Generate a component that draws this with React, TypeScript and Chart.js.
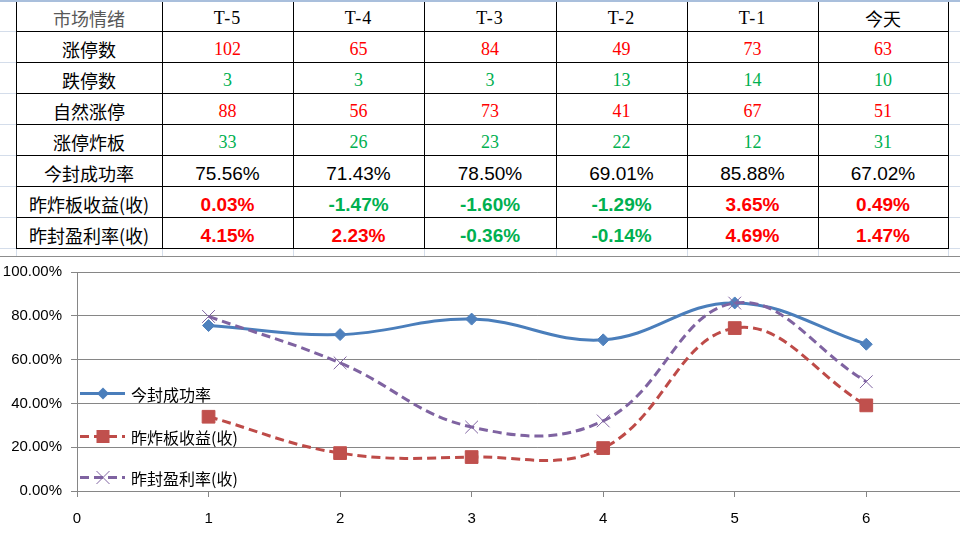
import React, { useEffect, useRef } from 'react';
import { Chart, registerables } from 'chart.js';

Chart.register(...registerables);

// ---------- table data ----------
const headerLabel = '市场情绪';
const categories = ['T-5', 'T-4', 'T-3', 'T-2', 'T-1', '今天'];
const rowLabels = ['涨停数', '跌停数', '自然涨停', '涨停炸板', '今封成功率', '昨炸板收益(收)', '昨封盈利率(收)'];
const limitUp = [102, 65, 84, 49, 73, 63];
const limitDown = [3, 3, 3, 13, 14, 10];
const naturalLimitUp = [88, 56, 73, 41, 67, 51];
const brokenBoards = [33, 26, 23, 22, 12, 31];
const sealSuccessRate = [75.56, 71.43, 78.5, 69.01, 85.88, 67.02];
const brokenReturn = [0.03, -1.47, -1.6, -1.29, 3.65, 0.49];
const sealProfit = [4.15, 2.23, -0.36, -0.14, 4.69, 1.47];

// ---------- chart data ----------
const xPositions = [1, 2, 3, 4, 5, 6];
const seriesNames = ['今封成功率', '昨炸板收益(收)', '昨封盈利率(收)'];
const successPlot = [75.56, 71.43, 78.5, 69.01, 85.88, 67.02];
const brokenReturnPlot = [33.9, 17.3, 15.5, 19.6, 74.4, 39.1];
const sealProfitPlot = [79.7, 58.5, 29.2, 32.0, 85.8, 49.9];
const yTicks = [0, 20, 40, 60, 80, 100];
const xTicks = [0, 1, 2, 3, 4, 5, 6, 7];

const colX = [16, 162, 293, 424, 556, 687, 818, 948];
const rowY = [0, 31, 62, 93, 124, 155, 186, 217, 248];

const RED = '#FF0000';
const GREEN = '#00B050';
const CJK = '"Noto Sans CJK SC", "Noto Sans", sans-serif';

const BLUE = '#4A7EBB';
const DRED = '#BE4B48';
const PURPLE = '#7F63A1';

const legendItems = [
  { name: seriesNames[0], color: BLUE, dash: [] as number[], marker: 'diamond', y: 139.5 },
  { name: seriesNames[1], color: DRED, dash: [9, 5], marker: 'square', y: 182.5 },
  { name: seriesNames[2], color: PURPLE, dash: [9, 5], marker: 'x', y: 223.5 },
];

const legendPlugin = {
  id: 'customLegend',
  afterDatasetsDraw(chart: any) {
    const ctx = chart.ctx as CanvasRenderingContext2D;
    ctx.save();
    for (const it of legendItems) {
      ctx.beginPath();
      ctx.setLineDash(it.dash);
      ctx.lineWidth = 3;
      ctx.strokeStyle = it.color;
      ctx.moveTo(80, it.y);
      ctx.lineTo(125, it.y);
      ctx.stroke();
      ctx.setLineDash([]);
      const cx = 103;
      if (it.marker === 'diamond') {
        ctx.beginPath();
        ctx.fillStyle = it.color;
        ctx.moveTo(cx, it.y - 6);
        ctx.lineTo(cx + 6, it.y);
        ctx.lineTo(cx, it.y + 6);
        ctx.lineTo(cx - 6, it.y);
        ctx.closePath();
        ctx.fill();
      } else if (it.marker === 'square') {
        ctx.fillStyle = '#C0504D';
        ctx.fillRect(cx - 6.5, it.y - 6.5, 13, 13);
      } else {
        ctx.beginPath();
        ctx.lineWidth = 1;
        ctx.strokeStyle = '#8064A2';
        ctx.moveTo(cx - 6.5, it.y - 6.5);
        ctx.lineTo(cx + 6.5, it.y + 6.5);
        ctx.moveTo(cx + 6.5, it.y - 6.5);
        ctx.lineTo(cx - 6.5, it.y + 6.5);
        ctx.stroke();
      }
      ctx.fillStyle = '#000';
      ctx.font = '16px ' + CJK;
      ctx.textBaseline = 'middle';
      ctx.textAlign = 'left';
      ctx.fillText(it.name, 131, it.y + 1);
    }
    ctx.restore();
  },
};

function ChartBox() {
  const ref = useRef<HTMLCanvasElement | null>(null);
  useEffect(() => {
    if (!ref.current) return;
    const mk = (ys: number[]) => xPositions.map((x, i) => ({ x, y: ys[i] }));
    const tickFont = { family: '"Liberation Sans", Arial, sans-serif', size: 15 };
    const chart = new Chart(ref.current, {
      type: 'line',
      data: {
        datasets: [
          {
            label: seriesNames[0],
            data: mk(successPlot),
            borderColor: BLUE,
            backgroundColor: BLUE,
            pointBackgroundColor: '#4F81BD',
            pointBorderColor: '#4F81BD',
            borderWidth: 3,
            tension: 0.4,
            pointStyle: 'rectRot',
            pointRadius: 6,
            pointBorderWidth: 1,
            order: 2,
          },
          {
            label: seriesNames[1],
            data: mk(brokenReturnPlot),
            borderColor: DRED,
            backgroundColor: '#C0504D',
            pointBackgroundColor: '#C0504D',
            pointBorderColor: '#C0504D',
            borderWidth: 3,
            borderDash: [9, 5],
            tension: 0.4,
            pointStyle: 'rect',
            pointRadius: 9,
            pointBorderWidth: 1,
            order: 1,
          },
          {
            label: seriesNames[2],
            data: mk(sealProfitPlot),
            borderColor: PURPLE,
            backgroundColor: PURPLE,
            pointBorderColor: '#8064A2',
            pointBackgroundColor: '#8064A2',
            borderWidth: 3,
            borderDash: [9, 5],
            tension: 0.4,
            pointStyle: 'crossRot',
            pointRadius: 9,
            pointBorderWidth: 1,
            order: 0,
          },
        ],
      } as any,
      options: {
        animation: false,
        responsive: false,
        maintainAspectRatio: false,
        layout: { padding: { top: 12, right: 4, bottom: 0, left: 0 } },
        plugins: { legend: { display: false }, tooltip: { enabled: false } },
        scales: {
          x: {
            type: 'linear',
            min: 0,
            max: 7,
            afterFit: (s: any) => { s.height = 46; },
            afterBuildTicks: (s: any) => { s.ticks = xTicks.map((v) => ({ value: v })); },
            ticks: { color: '#000', font: tickFont, padding: 13, autoSkip: false, maxRotation: 0 },
            grid: { drawOnChartArea: false, drawTicks: true, tickLength: 6, color: '#868686' },
            border: { display: true, color: '#868686', width: 1 },
          },
          y: {
            min: 0,
            max: 100,
            afterFit: (s: any) => { s.width = 77; },
            afterBuildTicks: (s: any) => { s.ticks = yTicks.map((v) => ({ value: v })); },
            ticks: { color: '#000', font: tickFont, padding: 9, callback: (v: any) => Number(v).toFixed(2) + '%' },
            grid: { color: '#868686', drawTicks: true, tickLength: 6 },
            border: { display: true, color: '#868686', width: 1 },
          },
        },
      } as any,
      plugins: [legendPlugin],
    });
    return () => chart.destroy();
  }, []);
  return <canvas ref={ref} width={1015} height={283} style={{ width: 1015, height: 283, display: 'block', marginTop: -3 }} />;
}

function fmtCell(r: number, v: number) {
  if (r < 4) return String(v);
  return v.toFixed(2) + '%';
}

function cellStyle(r: number, v: number): React.CSSProperties {
  if (r < 4) {
    return {
      color: r === 0 || r === 2 ? RED : GREEN,
      fontFamily: '"Liberation Serif", "Times New Roman", serif',
      fontSize: 18,
    };
  }
  if (r === 4) {
    return { color: '#000', fontFamily: '"Liberation Sans", Arial, sans-serif', fontSize: 19 };
  }
  return {
    color: v >= 0 ? RED : GREEN,
    fontFamily: '"Liberation Sans", Arial, sans-serif',
    fontSize: 19,
    fontWeight: 'bold',
  };
}

export default function App() {
  const tableRows = [limitUp, limitDown, naturalLimitUp, brokenBoards, sealSuccessRate, brokenReturn, sealProfit];
  const cells: React.ReactNode[] = [];
  const box = (key: string, c: number, r: number, content: React.ReactNode, style: React.CSSProperties) => (
    <div
      key={key}
      style={{
        position: 'absolute',
        left: colX[c],
        top: rowY[r],
        width: colX[c + 1] - colX[c],
        height: rowY[r + 1] - rowY[r],
        display: 'flex',
        alignItems: 'center',
        justifyContent: 'center',
        paddingTop: 5,
        boxSizing: 'border-box',
        whiteSpace: 'nowrap',
        lineHeight: 1,
        ...style,
      }}
    >
      {content}
    </div>
  );
  cells.push(box('h0', 0, 0, headerLabel, { fontFamily: CJK, fontSize: 18, color: '#595959' }));
  categories.forEach((cat, i) => {
    const isCjk = /[^\x00-\x7f]/.test(cat);
    cells.push(
      box('h' + (i + 1), i + 1, 0, cat, isCjk
        ? { fontFamily: CJK, fontSize: 18, color: '#000' }
        : { fontFamily: '"Liberation Serif", "Times New Roman", serif', fontSize: 18, color: '#000', letterSpacing: 1 })
    );
  });
  rowLabels.forEach((lab, r) => {
    cells.push(box('l' + r, 0, r + 1, lab, { fontFamily: CJK, fontSize: 18, color: '#000' }));
    tableRows[r].forEach((v, c) => {
      cells.push(box('c' + r + '_' + c, c + 1, r + 1, fmtCell(r, v), cellStyle(r, v)));
    });
  });

  const lines: React.ReactNode[] = [];
  rowY.slice(1).forEach((y, i) => {
    lines.push(<div key={'gh' + i} style={{ position: 'absolute', left: 0, top: y, width: 960, height: 1, background: '#D4DDEA' }} />);
  });
  colX.forEach((x, i) => {
    lines.push(<div key={'gv' + i} style={{ position: 'absolute', left: x, top: 0, width: 1, height: 257, background: '#D4DDEA' }} />);
  });
  rowY.forEach((y, i) => {
    if (i === 0) return;
    lines.push(<div key={'bh' + i} style={{ position: 'absolute', left: colX[0], top: y, width: colX[colX.length - 1] - colX[0] + 1, height: 1, background: '#000' }} />);
  });
  colX.forEach((x, i) => {
    lines.push(<div key={'bv' + i} style={{ position: 'absolute', left: x, top: 0, width: 1, height: rowY[rowY.length - 1] + 1, background: '#000' }} />);
  });

  return (
    <div style={{ position: 'fixed', left: 0, top: 0, width: 960, height: 537, background: '#fff', overflow: 'hidden' }}>
      {lines}
      <div style={{ position: 'absolute', left: 0, top: 0, width: 960, height: 2, background: '#A9BFDC' }} />
      {cells}
      <div style={{ position: 'absolute', left: 0, top: 256, width: 960, height: 1, background: '#8C8C8C' }} />
      <div style={{ position: 'absolute', left: 0, top: 257, width: 960, height: 280, overflow: 'hidden', background: '#fff' }}>
        <ChartBox />
      </div>
    </div>
  );
}
